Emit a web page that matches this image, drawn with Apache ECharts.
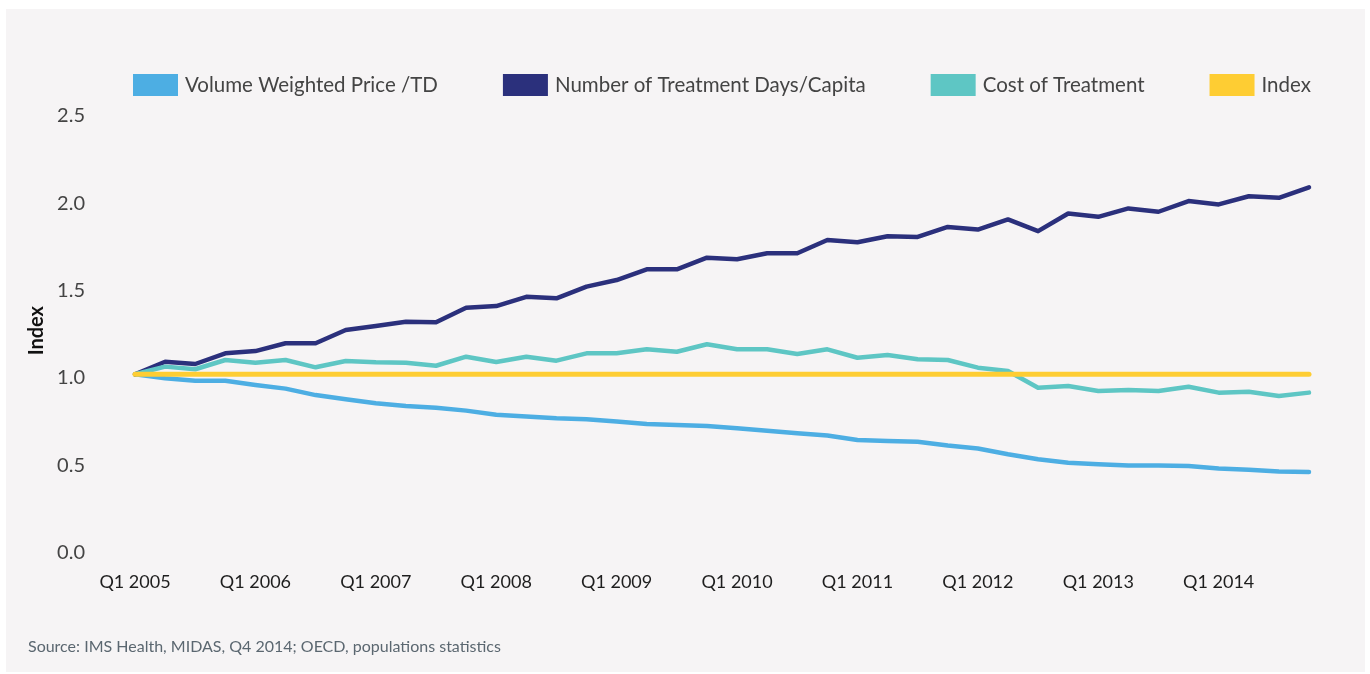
<!DOCTYPE html>
<html>
<head>
<meta charset="utf-8">
<script src="https://cdn.jsdelivr.net/npm/echarts@6/dist/echarts.min.js"></script>
<style>
  html, body { margin: 0; padding: 0; background: #ffffff; }
  #panel { position: absolute; left: 6px; top: 9px; width: 1359px; height: 663px; background: #f6f4f5; }
  #main { position: absolute; left: 0; top: 0; width: 1370px; height: 674px; }
</style>
</head>
<body>
<div id="panel"></div>
<div id="main"></div>
<script>
// quarters Q1 2005 .. Q4 2014
var quarters = [
  'Q1 2005', 'Q2 2005', 'Q3 2005', 'Q4 2005',
  'Q1 2006', 'Q2 2006', 'Q3 2006', 'Q4 2006',
  'Q1 2007', 'Q2 2007', 'Q3 2007', 'Q4 2007',
  'Q1 2008', 'Q2 2008', 'Q3 2008', 'Q4 2008',
  'Q1 2009', 'Q2 2009', 'Q3 2009', 'Q4 2009',
  'Q1 2010', 'Q2 2010', 'Q3 2010', 'Q4 2010',
  'Q1 2011', 'Q2 2011', 'Q3 2011', 'Q4 2011',
  'Q1 2012', 'Q2 2012', 'Q3 2012', 'Q4 2012',
  'Q1 2013', 'Q2 2013', 'Q3 2013', 'Q4 2013',
  'Q1 2014', 'Q2 2014', 'Q3 2014', 'Q4 2014'
];

var volumePrice = [
  1.00, 0.977, 0.963, 0.963, 0.939, 0.918, 0.881, 0.857, 0.834, 0.818,
  0.809, 0.792, 0.768, 0.758, 0.748, 0.742, 0.729, 0.715, 0.710, 0.704,
  0.691, 0.677, 0.662, 0.649, 0.624, 0.618, 0.614, 0.592, 0.575, 0.542,
  0.513, 0.494, 0.485, 0.477, 0.477, 0.475, 0.461, 0.454, 0.443, 0.441
];

var treatmentDays = [
  1.00, 1.072, 1.059, 1.120, 1.133, 1.178, 1.178, 1.254, 1.277, 1.301,
  1.298, 1.381, 1.391, 1.444, 1.435, 1.502, 1.540, 1.601, 1.601, 1.668,
  1.659, 1.693, 1.693, 1.769, 1.756, 1.791, 1.787, 1.844, 1.829, 1.887,
  1.820, 1.921, 1.902, 1.950, 1.931, 1.992, 1.973, 2.020, 2.011, 2.071
];

var treatmentCost = [
  1.00, 1.044, 1.029, 1.082, 1.066, 1.082, 1.040, 1.076, 1.069, 1.066,
  1.049, 1.101, 1.070, 1.101, 1.078, 1.120, 1.120, 1.143, 1.129, 1.172,
  1.143, 1.143, 1.116, 1.143, 1.095, 1.111, 1.086, 1.082, 1.038, 1.019,
  0.923, 0.933, 0.904, 0.910, 0.904, 0.929, 0.895, 0.900, 0.876, 0.895
];

var indexLine = [
  1, 1, 1, 1, 1, 1, 1, 1, 1, 1,
  1, 1, 1, 1, 1, 1, 1, 1, 1, 1,
  1, 1, 1, 1, 1, 1, 1, 1, 1, 1,
  1, 1, 1, 1, 1, 1, 1, 1, 1, 1
];

var seriesNames = ['Volume Weighted Price /TD', 'Number of Treatment Days/Capita', 'Cost of Treatment', 'Index'];
var colors = ['#4daee3', '#2b307c', '#5ec6c4', '#fecd33'];
var fontName = 'Lato, "Noto Sans", sans-serif';

var myChart = echarts.init(document.getElementById('main'));

function lineSeries(name, data, width) {
  return {
    name: name,
    type: 'line',
    data: data,
    symbol: 'none',
    lineStyle: { width: width, cap: 'round', join: 'round' }
  };
}

var option = {
  animation: false,
  color: colors,
  textStyle: { fontFamily: fontName },
  legend: {
    left: 133,
    top: 74,
    padding: 0,
    itemWidth: 45,
    itemHeight: 22,
    itemGap: 65,
    icon: 'rect',
    textStyle: { fontSize: 20.5, color: '#444444', padding: [0, 0, 0, 2] },
    data: seriesNames
  },
  grid: {
    left: 135,
    right: 61,
    top: 112.4,
    bottom: 125.1
  },
  xAxis: {
    type: 'category',
    boundaryGap: false,
    data: quarters,
    axisLine: { show: false },
    axisTick: { show: false },
    axisLabel: {
      interval: 3,
      margin: 24,
      fontSize: 18,
      color: '#1e1e1e'
    }
  },
  yAxis: {
    type: 'value',
    min: 0,
    max: 2.5,
    interval: 0.5,
    name: 'Index',
    nameLocation: 'middle',
    nameRotate: 90,
    nameGap: 85,
    nameTextStyle: { fontSize: 20, fontWeight: 'bold', color: '#111111' },
    axisLine: { show: false },
    axisTick: { show: false },
    splitLine: { show: false },
    axisLabel: {
      margin: 50,
      fontSize: 20,
      color: '#444444',
      verticalAlign: 'top',
      lineHeight: 7,
      formatter: function (v) { return v.toFixed(1); }
    }
  },
  graphic: [{
    type: 'text',
    left: 28,
    top: 639,
    style: {
      text: 'Source: IMS Health, MIDAS, Q4 2014; OECD, populations statistics',
      fontSize: 16,
      fontFamily: fontName,
      fill: '#5b6770'
    }
  }],
  series: [
    lineSeries(seriesNames[0], volumePrice, 4.5),
    lineSeries(seriesNames[1], treatmentDays, 4.5),
    lineSeries(seriesNames[2], treatmentCost, 4.5),
    lineSeries(seriesNames[3], indexLine, 5)
  ]
};

myChart.setOption(option);
window.addEventListener('resize', myChart.resize);
</script>
</body>
</html>
